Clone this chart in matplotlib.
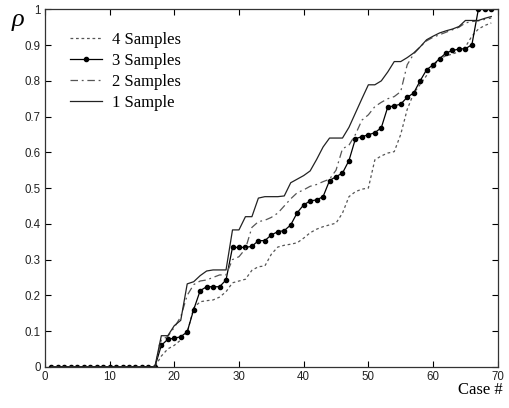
import numpy as np
import matplotlib
matplotlib.use("Agg")
import matplotlib.pyplot as plt

# Case numbers 1..69
cases = np.arange(1, 70)

zeros = [0.0] * 17

one_sample = zeros + [
    0.087, 0.087, 0.115, 0.130, 0.232, 0.238, 0.255, 0.268, 0.271, 0.271,
    0.271, 0.383, 0.383, 0.420, 0.420, 0.472, 0.476, 0.476, 0.476, 0.478,
    0.515, 0.525, 0.535, 0.548, 0.580, 0.615, 0.640, 0.640, 0.640, 0.670,
    0.710, 0.750, 0.789, 0.789, 0.800, 0.825, 0.854, 0.854, 0.865, 0.878,
    0.895, 0.915, 0.925, 0.934, 0.940, 0.945, 0.952, 0.969, 0.969, 0.969,
    0.975, 0.980,
]

two_samples = zeros + [
    0.075, 0.085, 0.110, 0.140, 0.200, 0.230, 0.240, 0.243, 0.250, 0.257,
    0.257, 0.300, 0.308, 0.330, 0.390, 0.406, 0.410, 0.418, 0.430, 0.450,
    0.470, 0.487, 0.495, 0.505, 0.510, 0.518, 0.525, 0.550, 0.610, 0.620,
    0.650, 0.690, 0.705, 0.728, 0.740, 0.750, 0.756, 0.770, 0.845, 0.875,
    0.895, 0.912, 0.922, 0.929, 0.936, 0.943, 0.950, 0.962, 0.966, 0.968,
    0.972, 0.976,
]

three_samples = zeros + [
    0.060, 0.077, 0.080, 0.084, 0.098, 0.160, 0.213, 0.224, 0.224, 0.224,
    0.243, 0.334, 0.334, 0.334, 0.337, 0.353, 0.353, 0.369, 0.378, 0.381,
    0.397, 0.431, 0.453, 0.464, 0.467, 0.476, 0.521, 0.532, 0.542, 0.577,
    0.638, 0.644, 0.649, 0.655, 0.669, 0.727, 0.730, 0.735, 0.754, 0.766,
    0.800, 0.831, 0.845, 0.862, 0.878, 0.885, 0.889, 0.890, 0.901, 1.000,
    1.000, 1.000,
]

four_samples = zeros + [
    0.030, 0.050, 0.060, 0.075, 0.095, 0.165, 0.182, 0.185, 0.187, 0.195,
    0.210, 0.235, 0.240, 0.245, 0.270, 0.280, 0.282, 0.315, 0.335, 0.340,
    0.343, 0.347, 0.360, 0.375, 0.385, 0.392, 0.397, 0.402, 0.430, 0.476,
    0.490, 0.497, 0.500, 0.579, 0.590, 0.598, 0.602, 0.650, 0.720, 0.765,
    0.790, 0.815, 0.840, 0.862, 0.870, 0.875, 0.882, 0.895, 0.925, 0.945,
    0.955, 0.962,
]

x_ticks = [0, 10, 20, 30, 40, 50, 60, 70]
y_ticks = [0, 0.1, 0.2, 0.3, 0.4, 0.5, 0.6, 0.7, 0.8, 0.9, 1]
y_tick_labels = ["0", "0.1", "0.2", "0.3", "0.4", "0.5", "0.6", "0.7", "0.8", "0.9", "1"]

fig = plt.figure(figsize=(5.1, 4.08), dpi=100)
ax = fig.add_axes([0.088, 0.101, 0.888, 0.876])

ax.plot(cases, four_samples, color="#555555", lw=0.9, ls=(0, (2.2, 2.2)),
        label="4 Samples")
ax.plot(cases, three_samples, color="black", lw=0.9, marker="o", ms=3.0,
        mfc="black", mec="black", label="3 Samples")
ax.plot(cases, two_samples, color="#555555", lw=0.9, ls=(0, (6, 3, 1.5, 3)),
        label="2 Samples")
ax.plot(cases, one_sample, color="#222222", lw=0.9, ls="-", label="1 Sample")

ax.set_xlim(0, 70)
ax.set_ylim(0, 1)
ax.set_xticks(x_ticks)
ax.set_yticks(y_ticks)
ax.set_yticklabels(y_tick_labels)

for lab in ax.get_xticklabels() + ax.get_yticklabels():
    lab.set_fontfamily(["Liberation Sans", "DejaVu Sans"])
    lab.set_fontsize(8.3)
    lab.set_color("#222222")

ax.tick_params(direction="in", top=True, right=True, length=4, width=0.8,
               pad=3)
for sp in ax.spines.values():
    sp.set_linewidth(0.9)
    sp.set_color("#333333")

fig.text(0.022, 0.925, "ρ", family="Liberation Serif", style="italic",
         fontsize=19, ha="left", va="bottom")
fig.text(0.985, 0.025, "Case #", family="Liberation Serif", fontsize=12,
         ha="right", va="bottom")

leg = ax.legend(loc="upper left", bbox_to_anchor=(0.041, 0.955), frameon=False,
                prop=dict(family="Liberation Serif", size=12),
                handlelength=1.9, handletextpad=0.6, labelspacing=0.3,
                numpoints=1, borderaxespad=0.0)

fig.savefig("out.png", dpi=100)
